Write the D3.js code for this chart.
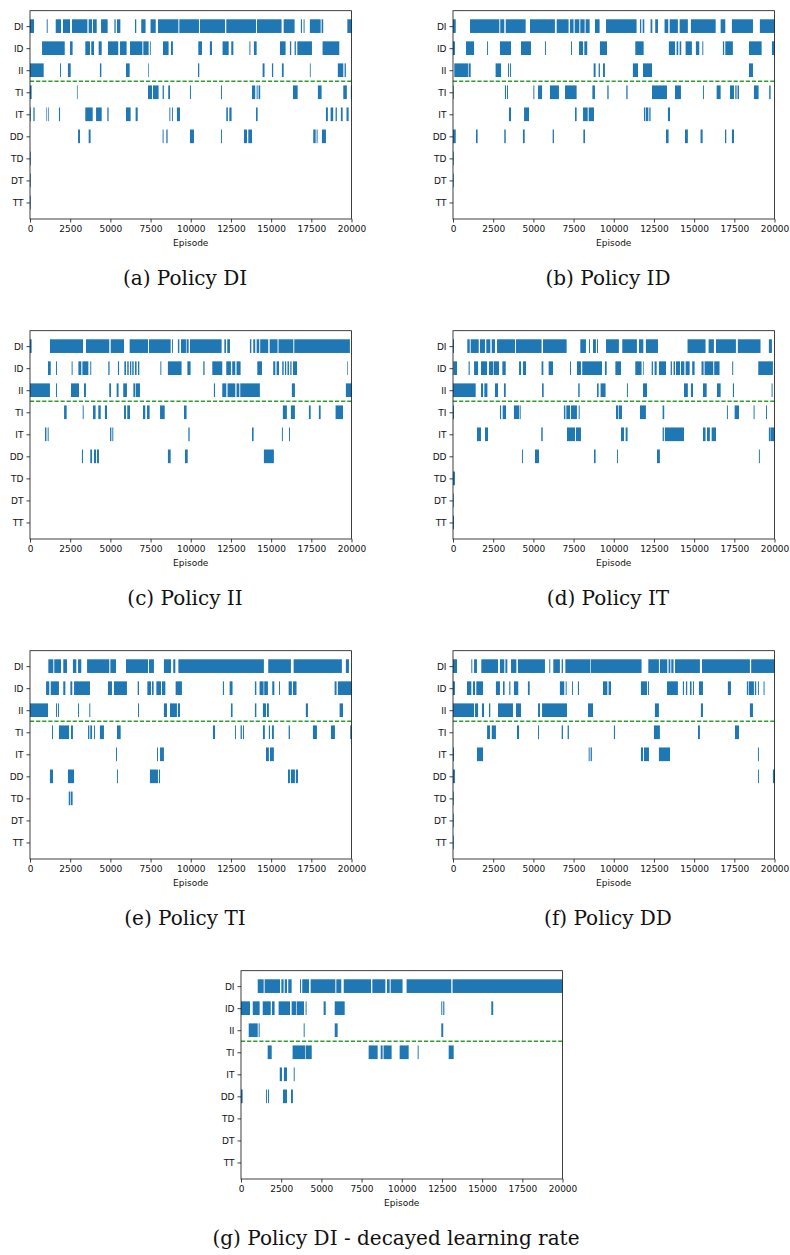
<!DOCTYPE html>
<html>
<head>
<meta charset="utf-8">
<script src="https://cdn.jsdelivr.net/npm/d3@7"></script>
<style>
  body { margin: 0; background: #fff; }
  .tick text { font-family: "DejaVu Sans", sans-serif; font-size: 9px; fill: #111; }
  .xlabel { font-family: "DejaVu Sans", sans-serif; font-size: 9px; fill: #111; }
  .caption { font-family: "DejaVu Serif", serif; font-size: 20px; fill: #111; }
</style>
</head>
<body>
<svg id="chart" width="790" height="1255"></svg>
<script>
// row labels (top to bottom) and episode ticks
const rowLabels = ["DI", "ID", "II", "TI", "IT", "DD", "TD", "DT", "TT"];
const xTicks = [0, 2500, 5000, 7500, 10000, 12500, 15000, 17500, 20000];

// each list holds [start, end] episode spans where the action pair was chosen

/* (a) Policy DI */
const aDI = [[0,250],[1040,1100],[1600,1930],[2050,2490],[2610,3570],[3650,3860],[3920,4150],[4420,4830],[5250,5330],[5410,5620],[6530,6610],[6920,7190],[7500,7820],[7960,9230],[9290,10510],[10570,12130],[12210,14060],[14120,15650],[15780,16460],[16850,16920],[17020,17080],[17410,18080],[18140,18240],[19740,20000]];
const aID = [[750,2160],[2490,2650],[3440,3730],[3810,3980],[4270,4460],[4850,5490],[5600,6010],[6220,6990],[7050,7380],[7460,7510],[8270,8620],[8770,8890],[10470,10700],[11190,11320],[11980,12360],[12520,12650],[13650,13710],[13930,14100],[15550,15900],[16170,16250],[16460,16540],[16630,17540],[18200,19240]];
const aII = [[0,850],[1870,1930],[2360,2530],[4350,4440],[5970,6200],[7340,7380],[10450,10530],[14470,14590],[15050,15130],[15670,15780],[17410,17460],[19150,19490],[19570,19650]];
const aTI = [[0,100],[2920,2960],[7340,7590],[7650,8000],[8250,8330],[8600,8710],[9950,10010],[11880,11940],[13810,14010],[14100,14160],[14220,14320],[16360,16650],[17910,18140],[19490,19710],[19960,20000]];
const aIT = [[0,40],[210,290],[1020,1060],[1140,1180],[1800,1870],[3440,3900],[4110,4460],[4810,4890],[5970,6260],[6570,6700],[8670,8730],[8830,8890],[9140,9330],[12210,12310],[12400,12540],[14060,14160],[18410,18530],[18700,18860],[19010,19090],[19340,19450],[19690,19820]];
const aDD = [[2990,3110],[3650,3770],[8250,8310],[8480,8560],[9950,10200],[11880,11940],[13310,13500],[13580,13810],[17620,17770],[17830,17890],[18160,18410]];
const aTD = [[0,30]];
const aDT = [[0,30]];
const aTT = [[0,30]];

/* (b) Policy ID */
const bDI = [[0,170],[1060,2880],[2940,3190],[3280,4520],[4790,6340],[6450,7190],[7280,7500],[7570,7860],[7920,8190],[8250,8500],[8830,9120],[9520,11420],[11630,11710],[11800,11900],[12290,12400],[12580,12750],[13160,13390],[13480,13990],[14100,14610],[14800,16340],[16650,16940],[17350,18660],[19090,20000]];
const bID = [[0,120],[810,1310],[2120,2180],[2920,3610],[4230,4850],[5720,5780],[7340,7400],[7840,8090],[8170,8350],[9140,9580],[11340,11860],[13430,13810],[13910,14010],[14100,14200],[14470,14860],[15110,15320],[15510,15570],[16790,16870],[16940,17410],[18410,19200],[19840,20000]];
const bII = [[80,930],[970,1100],[2650,2990],[3420,3480],[3550,3610],[8750,8870],[9060,9140],[9330,9450],[11190,11510],[11820,12380],[18410,18660]];
const bTI = [[0,20],[3230,3300],[3360,3420],[5000,5060],[5290,5540],[6030,6590],[6970,7690],[8670,8830],[9600,9680],[10780,10860],[12380,13310],[13810,14180],[15550,15610],[16400,16650],[17230,17480],[17560,17640],[17700,17790],[18720,19010],[19670,19760]];
const bIT = [[3480,3610],[4420,4730],[7590,7690],[8090,8380],[8440,8770],[11880,11960],[12000,12150],[12210,12290],[13370,13500]];
const bDD = [[0,170],[1430,1530],[3190,3280],[4350,4460],[6200,6280],[8110,8210],[13250,13410],[14430,14610],[15400,15530],[16920,17000],[17350,17480]];
const bTD = [[0,40]];
const bDT = [[0,40]];
const bTT = [];

/* (c) Policy II */
const cDI = [[0,100],[1240,3300],[3480,4930],[5020,5850],[6200,7340],[7400,8750],[8830,8890],[9200,9290],[9390,9700],[9740,9870],[9950,11920],[12090,12190],[12270,12440],[13680,13770],[13890,14010],[14100,14260],[14320,14820],[14910,15400],[15460,16380],[16440,19900]];
const cID = [[1120,1290],[1620,1680],[2590,2650],[3010,3190],[3260,3630],[3750,3810],[4870,4950],[5470,5540],[5870,5970],[6050,6140],[6220,6300],[6360,6450],[6530,6630],[6720,6800],[8110,8170],[8580,9430],[9790,9990],[10780,10860],[11340,11960],[12210,12500],[12580,12770],[12850,13100],[14140,14430],[15130,15260],[15340,15490],[15690,15780],[15860,15940],[16020,16110],[16190,16270],[16360,16610],[19740,19780]];
const cII = [[0,1240],[1620,1680],[2550,3050],[3360,3480],[4930,5040],[5390,5510],[5800,6030],[6430,6550],[6590,6840],[11440,11510],[11960,12210],[12290,12770],[12850,13020],[13080,14300],[16290,16480],[19650,20000]];
const cTI = [[2120,2280],[3280,3340],[3920,4080],[4250,4400],[4660,4790],[5850,5970],[6050,6220],[7030,7170],[7280,7440],[8090,8380],[9580,9740],[15730,15980],[16230,16480],[17350,17460],[17970,18080],[19010,19470]];
const cIT = [[930,1020],[1100,1160],[4980,5060],[5120,5180],[9850,9930],[13810,13910],[15670,15730],[16110,16170]];
const cDD = [[3230,3300],[3750,3860],[3980,4110],[4170,4290],[8580,8750],[9640,9810],[14550,15170]];
const cTD = [];
const cDT = [];
const cTT = [];

/* (d) Policy IT */
const dDI = [[0,60],[890,1040],[1100,1600],[1680,1990],[2070,2320],[2410,2610],[2740,3860],[3920,5510],[5600,7070],[7920,8270],[8460,8520],[8710,8890],[8960,9020],[9520,10320],[10530,11440],[11570,11840],[12000,12750],[14590,15710],[15900,16230],[16360,17600],[17720,19130],[19650,19840]];
const dID = [[20,250],[970,1040],[1310,1560],[1740,2120],[2240,2490],[2530,2860],[3070,3280],[4110,4230],[4350,4540],[5510,5620],[5950,6220],[7280,7340],[7710,7960],[8040,9270],[9450,9560],[10100,10450],[11340,11730],[11840,11880],[12360,12440],[12540,12670],[12810,13250],[13540,13620],[13720,13810],[13870,14120],[14180,14390],[14470,14720],[14880,15030],[15460,15590],[15650,16190],[16250,16580],[17370,17430],[18990,19900]];
const dII = [[0,1410],[1740,1870],[1950,2140],[2610,2800],[3170,3280],[5540,5640],[7790,7880],[8960,9060],[9180,9490],[10820,10880],[11820,12070],[14370,14610],[14800,14930],[15550,15780],[16420,16650],[17410,17480],[19820,19880]];
const dTI = [[0,60],[2920,2990],[3090,3300],[3790,4110],[4150,4210],[6900,6990],[7050,7280],[7340,7710],[7820,7880],[10140,10280],[10320,10510],[11630,12000],[13040,13140],[17040,17100],[17520,17790],[18700,18760],[19470,19530]];
const dIT = [[1490,1740],[1990,2180],[5490,5580],[7090,7590],[7650,7960],[10450,10640],[10740,10860],[13040,13120],[13180,14370],[15550,15710],[15800,15980],[16090,16360],[19650,19760],[19780,20000]];
const dDD = [[4290,4350],[5100,5350],[8770,8870],[10200,10260],[12690,12870],[19030,19090]];
const dTD = [[0,120]];
const dDT = [[0,30]];
const dTT = [[0,60]];

/* (e) Policy TI */
const eDI = [[1140,1450],[1510,1930],[2070,2300],[2670,2880],[2990,3190],[3550,4930],[5000,5350],[5970,7340],[7400,7710],[8330,8770],[8910,9040],[9230,14550],[14820,16230],[16400,19400],[19650,19840]];
const eID = [[1000,1200],[1290,1800],[2070,2200],[2510,2630],[2740,3730],[4850,5100],[5220,6030],[6700,6780],[7300,7530],[7590,7690],[7860,8150],[8210,8420],[9060,9450],[12000,12070],[12420,12600],[13990,14080],[14280,14530],[14570,14800],[15070,15200],[15490,15550],[16090,16290],[16360,16580],[18950,19070],[19150,20000]];
const eII = [[0,1120],[1620,1680],[1740,1800],[2990,3050],[3690,3750],[6720,6780],[8330,8520],[8710,9140],[9200,9330],[12500,12600],[13990,14080],[14490,14680],[14740,14860],[17160,17290],[19260,19470]];
const eTI = [[1370,1430],[1800,2430],[2550,2670],[3610,3690],[3750,3860],[3980,4040],[4350,4600],[5410,5640],[11380,11510],[12750,12810],[13100,13180],[13250,13310],[14490,14610],[14860,14930],[15050,15170],[16090,16170],[17600,17850],[18720,18970],[19920,20000]];
const eIT = [[5350,5410],[7900,7960],[8090,8330],[14680,14860],[14930,15170]];
const eDD = [[1240,1430],[2360,2740],[5410,5470],[7460,7960],[8020,8090],[16050,16170],[16230,16480],[16540,16670]];
const eTD = [[2410,2490],[2530,2650]];
const eDT = [];
const eTT = [];

/* (f) Policy DD */
const fDI = [[0,250],[1140,1200],[1310,1490],[1760,2800],[2920,3190],[3260,3380],[3610,3940],[4040,5720],[5990,6050],[6240,6650],[6760,6840],[6990,8540],[8580,11730],[12150,12810],[12870,13330],[13410,13520],[13580,13720],[13810,15360],[15490,18470],[18550,20000]];
const fID = [[0,120],[870,1140],[1240,1370],[1450,1870],[2670,2920],[3110,3210],[3500,3570],[3790,4060],[4660,4770],[6650,6920],[7010,7070],[7400,7460],[7770,7840],[9330,9600],[9680,9830],[11690,12070],[12130,12190],[13310,13990],[14300,14370],[14490,14570],[14740,14840],[14930,14990],[15300,15550],[17100,17290],[18280,18370],[18410,18720],[18780,18860],[18970,19030],[19320,19380]];
const fII = [[0,1310],[1370,1560],[1800,1930],[2240,2320],[2800,3730],[3920,4230],[5290,5410],[5540,7090],[8400,8710],[12560,12810],[15420,15550],[18470,18660]];
const fTI = [[2120,2300],[2410,2670],[3980,4110],[5290,5350],[6760,6840],[7130,7210],[10010,10080],[12500,12870],[15240,15360],[17540,17790]];
const fIT = [[0,60],[1490,1870],[8440,8500],[8560,8640],[11690,11820],[11880,12190],[12810,13500],[18970,19030]];
const fDD = [[0,120],[18970,19030],[19900,20000]];
const fTD = [[0,40]];
const fDT = [[0,40]];
const fTT = [[0,40]];

/* (g) Policy DI - decayed learning rate */
const gDI = [[1040,1410],[1470,2430],[2510,2650],[2720,2860],[2940,3150],[3670,3730],[3810,4230],[4330,5870],[5930,6240],[6390,8090],[8170,8980],[9080,9250],[9310,10050],[10300,13080],[13160,20000]];
const gID = [[0,560],[730,1160],[1350,1850],[1930,2090],[2340,3050],[3150,3420],[3460,3920],[4020,4080],[5140,5270],[5830,6450],[12460,12520],[12580,12650],[15570,15690]];
const gII = [[480,1040],[1100,1160],[3900,3960],[5830,6010],[12460,12580]];
const gTI = [[1660,1910],[3210,3980],[4020,4400],[7940,8500],[8690,8810],[8870,9370],[9870,10430],[10990,11050],[12920,13230]];
const gIT = [[2410,2550],[2670,2860],[3280,3340]];
const gDD = [[0,100],[1560,1620],[1680,1740],[2610,2860],[3110,3230]];
const gTD = [];
const gDT = [];
const gTT = [];

const captions = ["(a) Policy DI", "(b) Policy ID", "(c) Policy II", "(d) Policy IT",
                  "(e) Policy TI", "(f) Policy DD", "(g) Policy DI - decayed learning rate"];

// panel placement on the page
const panels = [
    { cap: captions[0], left: 30,  top: 0,   capX: 185, capY: 285,  rows: [aDI, aID, aII, aTI, aIT, aDD, aTD, aDT, aTT] },
    { cap: captions[1], left: 453, top: 0,   capX: 608, capY: 285,  rows: [bDI, bID, bII, bTI, bIT, bDD, bTD, bDT, bTT] },
    { cap: captions[2], left: 30,  top: 320, capX: 185, capY: 605,  rows: [cDI, cID, cII, cTI, cIT, cDD, cTD, cDT, cTT] },
    { cap: captions[3], left: 453, top: 320, capX: 608, capY: 605,  rows: [dDI, dID, dII, dTI, dIT, dDD, dTD, dDT, dTT] },
    { cap: captions[4], left: 30,  top: 640, capX: 185, capY: 925,  rows: [eDI, eID, eII, eTI, eIT, eDD, eTD, eDT, eTT] },
    { cap: captions[5], left: 453, top: 640, capX: 608, capY: 925,  rows: [fDI, fID, fII, fTI, fIT, fDD, fTD, fDT, fTT] },
    { cap: captions[6], left: 241, top: 960, capX: 396, capY: 1245, rows: [gDI, gID, gII, gTI, gIT, gDD, gTD, gDT, gTT] }
];

const svg = d3.select("#chart");

function drawPanel(p) {
    var width = 321.5,
        top = 10.7,
        bottom = 219;

    var g = svg.append("g")
        .attr("transform", "translate(" + p.left + "," + p.top + ")");

    var x = d3.scaleLinear().domain([0, 20000]).range([0, width]);
    var y = d3.scaleLinear().domain([-0.7, 8.75]).range([top, bottom]);
    var half = 0.31;   // half bar height in row units

    // bars, one group per row
    p.rows.forEach(function(spans, i) {
        g.append("g")
            .selectAll("rect")
            .data(spans)
            .enter()
            .append("rect")
                .attr("x", function(d) { return x(d[0]); })
                .attr("width", function(d) { return Math.max(x(d[1]) - x(d[0]), 0.7); })
                .attr("y", y(i - half))
                .attr("height", y(i + half) - y(i - half))
                .style("fill", "#1f77b4");
    });

    // green dashed separator between II and TI
    g.append("line")
        .attr("x1", 0).attr("x2", width)
        .attr("y1", y(2.5)).attr("y2", y(2.5))
        .style("stroke", "#2ca02c")
        .style("stroke-width", 1.4)
        .style("stroke-dasharray", "4.2,1.9");

    // y axis
    g.append("g")
        .call(d3.axisLeft(y)
            .tickValues(d3.range(rowLabels.length))
            .tickFormat(function(d) { return rowLabels[d]; })
            .tickSize(3.5)
            .tickPadding(3))
        .call(function(a) { a.select(".domain").remove(); })
        .call(function(a) { a.selectAll("line").style("stroke", "#111").style("stroke-width", 0.8); });

    // x axis
    g.append("g")
        .attr("transform", "translate(0," + bottom + ")")
        .call(d3.axisBottom(x)
            .tickValues(xTicks)
            .tickFormat(d3.format("d"))
            .tickSize(3.5)
            .tickPadding(3.5))
        .call(function(a) { a.select(".domain").remove(); })
        .call(function(a) { a.selectAll("line").style("stroke", "#111").style("stroke-width", 0.8); });

    // frame
    g.append("rect")
        .attr("x", 0).attr("y", top)
        .attr("width", width).attr("height", bottom - top)
        .style("fill", "none")
        .style("stroke", "#111")
        .style("stroke-width", 0.8);

    g.append("text")
        .attr("class", "xlabel")
        .attr("x", width / 2)
        .attr("y", bottom + 26.5)
        .attr("text-anchor", "middle")
        .text("Episode");

    svg.append("text")
        .attr("class", "caption")
        .attr("x", p.capX)
        .attr("y", p.capY)
        .attr("text-anchor", "middle")
        .text(p.cap);
}

panels.forEach(drawPanel);
</script>
</body>
</html>
